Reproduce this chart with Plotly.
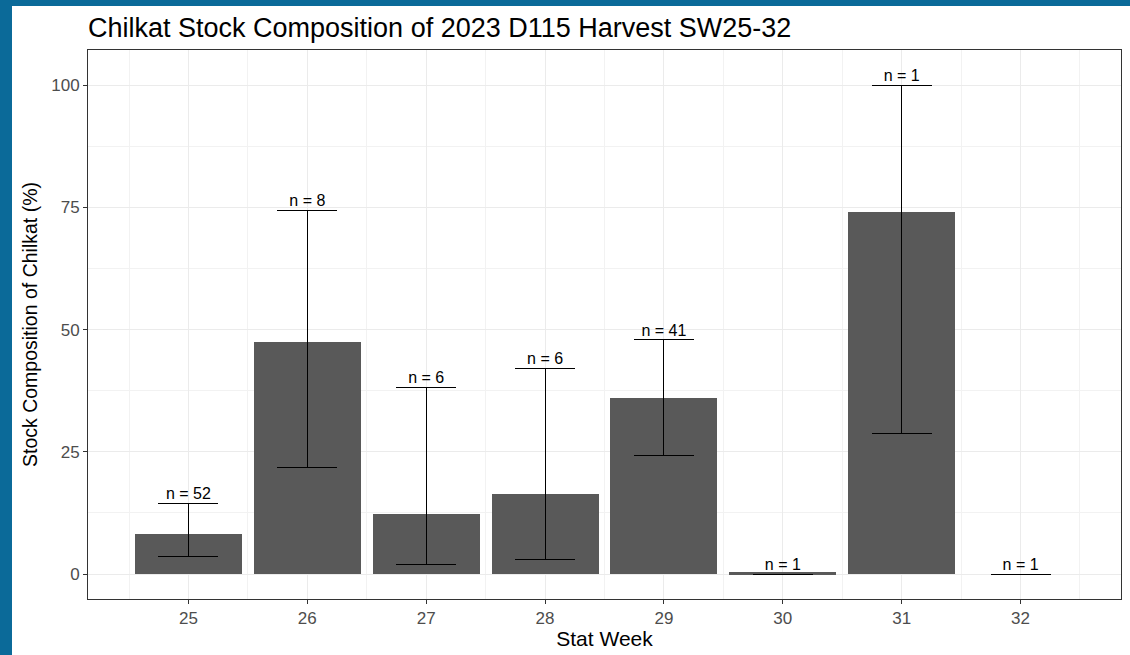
import plotly.graph_objects as go

weeks = [25, 26, 27, 28, 29, 30, 31, 32]
composition = [8.2, 47.4, 12.3, 16.4, 36.0, 0.4, 74.0, 0.0]
lower = [3.5, 21.9, 2.0, 2.9, 24.3, 0.0, 28.8, 0.0]
upper = [14.5, 74.4, 38.2, 42.1, 47.9, 0.0, 100.0, 0.0]
n_labels = ["n = 52", "n = 8", "n = 6", "n = 6", "n = 41", "n = 1", "n = 1", "n = 1"]
y_ticks = [0, 25, 50, 75, 100]

L, R, T, B = 88, 9, 50, 56
W, H = 1130, 655
pw, ph = W - L - R, H - T - B
FONT = "Liberation Sans, Arial"

fig = go.Figure()
fig.add_trace(go.Bar(
    x=weeks, y=composition, width=0.9,
    marker=dict(color="#595959", line=dict(width=0)),
    error_y=dict(type="data", symmetric=False,
                 array=[u - c for u, c in zip(upper, composition)],
                 arrayminus=[c - l for l, c in zip(lower, composition)],
                 color="black", thickness=1, width=30),
    showlegend=False, hoverinfo="skip",
))
fig.add_trace(go.Scatter(
    x=weeks, y=upper, mode="text", text=n_labels, textposition="top center",
    textfont=dict(family=FONT, size=16, color="black"),
    showlegend=False, hoverinfo="skip",
))

fig.add_shape(type="rect", xref="paper", yref="paper",
              x0=(12 - L) / pw, x1=1.05, y0=-0.2, y1=(H - B - 6) / ph,
              fillcolor="white", line=dict(width=0), layer="below")

axis_common = dict(showline=True, mirror=True, linecolor="#333333", linewidth=1,
                   gridcolor="#ebebeb", gridwidth=1, zeroline=False,
                   ticks="outside", ticklen=4, tickcolor="#333333",
                   tickfont=dict(family=FONT, size=17, color="#4d4d4d"))

fig.update_xaxes(range=[24.155, 32.845], tickvals=weeks, ticktext=[str(w) for w in weeks],
                 minor=dict(tick0=24.5, dtick=1, showgrid=True, gridcolor="#f2f2f2", ticks=""),
                 title=dict(text="Stat Week", standoff=3,
                            font=dict(family=FONT, size=21, color="black")),
                 **axis_common)
fig.update_yaxes(range=[-5.1, 107.2], tickvals=y_ticks,
                 minor=dict(tick0=12.5, dtick=25, showgrid=True, gridcolor="#f2f2f2", ticks=""),
                 title=dict(text="Stock Composition of Chilkat (%)", standoff=8,
                            font=dict(family=FONT, size=19.5, color="black")),
                 **axis_common)

fig.update_layout(
    width=W, height=H,
    margin=dict(l=L, r=R, t=T, b=B),
    paper_bgcolor="#0b6a99", plot_bgcolor="white",
    bargap=0,
    title=dict(text="Chilkat Stock Composition of 2023 D115 Harvest SW25-32",
               x=L / W, xanchor="left", y=1 - 28 / H, yanchor="middle",
               font=dict(family=FONT, size=27, color="black")),
)

fig.write_html("out.html", config={"displayModeBar": False},
               post_script="document.body.style.margin='0';document.body.style.background='#0b6a99';")
